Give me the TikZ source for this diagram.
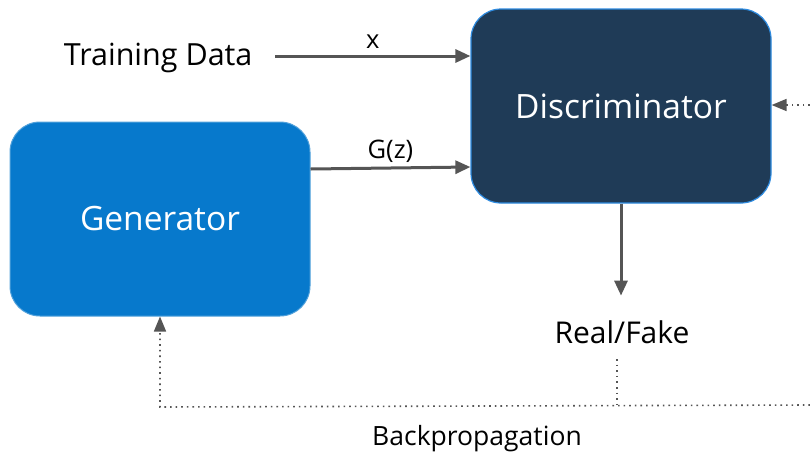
\documentclass[tikz,border=0pt]{standalone}
\usepackage{fontspec}
\setmainfont{Open Sans}
\usepackage{xcolor}
\usetikzlibrary{arrows.meta, positioning, calc}
\definecolor{genblue}{HTML}{0779CC}
\definecolor{discnavy}{HTML}{1F3B57}
\definecolor{edgeblue}{HTML}{2E8BE0}
\definecolor{arrowgray}{HTML}{555555}

\begin{document}
\begin{tikzpicture}[x=1pt, y=-1pt,
  block/.style={rounded corners=30pt, minimum width=300pt, minimum height=194pt,
    text=white, font=\fontsize{33.5}{40}\selectfont, inner sep=0pt},
  flow/.style={draw=arrowgray, line width=3pt, -{Triangle[length=15pt, width=13pt]}},
  backflow/.style={draw=arrowgray, line width=1.6pt, dash pattern=on 1.6pt off 4pt,
    -{Triangle[length=15pt, width=12pt]}},
  lbl/.style={font=\fontsize{25.5}{30}\selectfont, text=black}]
  \useasboundingbox (0,0) rectangle (810,456);
  % Blocks
  \node[block, fill=genblue, draw=genblue!70!white, line width=1pt] (gen) at (160,219) {Generator};
  \node[block, fill=discnavy, draw=edgeblue, line width=1.2pt] (disc) at (621,106) {Discriminator};
  % Texts
  \node[font=\fontsize{30.5}{36}\selectfont, anchor=east] (train) at (256,58) {Training Data};
  \node[font=\fontsize{30}{36}\selectfont] (out) at (622,332) {Real/Fake};
  \node[font=\fontsize{26.5}{32}\selectfont] (bp) at (477,439) {Backpropagation};
  % Forward
  \draw[flow] (275,56) coordinate (trainend) -- (disc.west |- trainend)
    node[lbl, midway, above=3pt] {x};
  \draw[flow] (gen.east |- 0,169) coordinate (genout) -- (disc.west |- 0,167)
    node[lbl, midway, above=1pt] {G(z)};
  \draw[flow] (disc.south) -- ++(0,92) coordinate (outtop);
  % Backpropagation
  \coordinate (feedin) at (810,105);
  \coordinate (bpleft) at (160,407);
  \coordinate (bpright) at (810,405);
  \draw[backflow] (feedin) -- (disc.east |- feedin);
  \draw[draw=arrowgray, line width=1.6pt, dash pattern=on 1.6pt off 4pt] (out.south -| 617,0) ++(0,12) -- (617,406);
  \draw[backflow] (bpright) -- (bpleft) -- (gen.south -| bpleft);
\end{tikzpicture}
\end{document}
